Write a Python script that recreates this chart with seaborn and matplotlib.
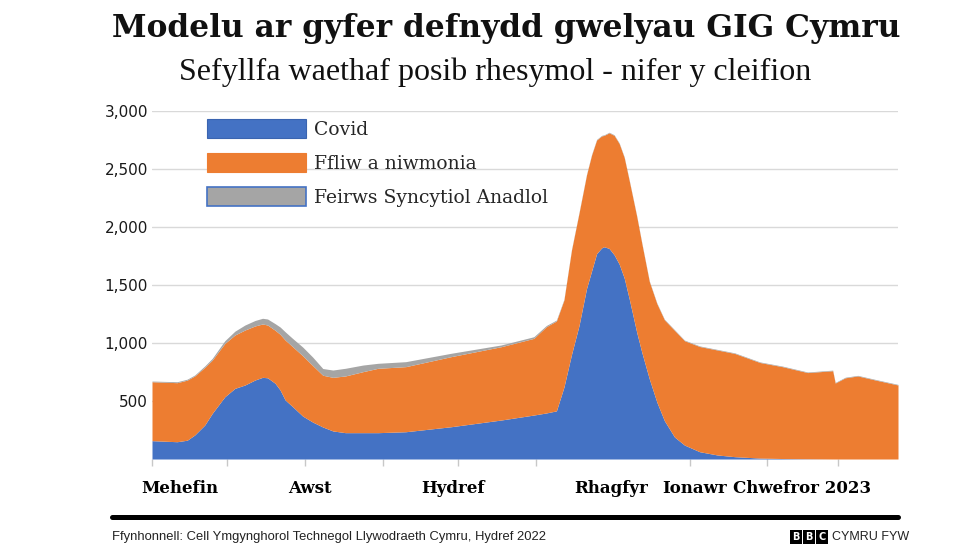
"""Modelu defnydd gwelyau GIG Cymru - stacked area chart."""

import matplotlib
matplotlib.use("Agg")
import matplotlib.pyplot as plt
import matplotlib.dates as mdates
from matplotlib.lines import Line2D
from matplotlib.patches import Patch
import pandas as pd
import seaborn as sns

# days since 1 June 2022
day = [0, 10, 14, 17, 21, 24, 27, 29, 33, 37,
       41, 44, 46, 49, 51, 53, 56, 60, 64, 68,
       72, 77, 84, 90, 101, 119, 139, 152, 157, 161,
       164, 167, 170, 173, 175, 177, 179, 180, 182, 184,
       186, 188, 190, 193, 195, 198, 201, 204, 208, 212,
       218, 225, 232, 242, 251, 261, 271, 272, 276, 281,
       288, 297]
covid = [158, 149, 162, 207, 293, 394, 480, 537, 609, 638,
         681, 704, 700, 653, 595, 509, 451, 370, 318, 276,
         242, 227, 227, 227, 235, 278, 336, 379, 397, 415,
         620, 900, 1150, 1470, 1620, 1770, 1820, 1830, 1815, 1760,
         1680, 1560, 1380, 1090, 920, 690, 490, 330, 190, 120,
         63, 35, 20, 8, 4, 2, 0, 0, 0, 0,
         0, 0]
flu = [508, 509, 518, 509, 497, 459, 460, 460, 460, 474,
       466, 460, 455, 457, 480, 517, 517, 520, 487, 446,
       462, 489, 526, 555, 561, 604, 632, 661, 744, 775,
       751, 900, 970, 980, 1000, 980, 965, 960, 997, 1030,
       1040, 1040, 1020, 1000, 940, 840, 850, 870, 920, 900,
       907, 905, 890, 824, 792, 743, 761, 655, 700, 716,
       681, 638]
rsv = [6, 8, 8, 8, 12, 15, 20, 23, 33, 43,
       47, 49, 52, 57, 63, 71, 71, 75, 73, 58,
       63, 66, 57, 43, 43, 29, 15, 14, 10, 8,
       6, 5, 5, 5, 5, 5, 5, 5, 5, 5,
       5, 5, 5, 5, 5, 5, 5, 5, 5, 5,
       5, 5, 5, 5, 5, 5, 5, 5, 5, 5,
       5, 5]

series_labels = ["Covid", "Ffliw a niwmonia", "Feirws Syncytiol Anadlol"]
y_ticks = [500, 1000, 1500, 2000, 2500, 3000]
month_labels = ["Mehefin", "Awst", "Hydref", "Rhagfyr", "Ionawr", "Chwefror 2023"]
label_days = [11, 63, 120, 183, 216, 259]

title = "Modelu ar gyfer defnydd gwelyau GIG Cymru"
subtitle = "Sefyllfa waethaf posib rhesymol - nifer y cleifion"
source = "Ffynhonnell: Cell Ymgynghorol Technegol Llywodraeth Cymru, Hydref 2022"

BLUE = "#4472c4"
ORANGE = "#ed7d31"
GREY = "#a5a5a5"

sns.set_theme(style="white")
plt.rcParams["font.family"] = ["DejaVu Sans"]

start = pd.Timestamp("2022-06-01")
dates = start + pd.to_timedelta(day, unit="D")

W, H = 976, 549
fig = plt.figure(figsize=(W / 100, H / 100), dpi=100)
ax = fig.add_axes([152 / W, 1 - 459 / H, 746 / W, 348 / H])

ax.stackplot(dates, covid, flu, rsv, colors=[BLUE, ORANGE, GREY], linewidth=0)
ax.set_xlim(start, start + pd.Timedelta(days=297))
ax.set_ylim(0, 3000)

ax.set_yticks(y_ticks)
ax.set_yticklabels([f"{v:,}" for v in y_ticks])
ax.yaxis.grid(True, color="#d9d9d9", lw=1)
ax.xaxis.grid(False)
ax.set_axisbelow(True)
sns.despine(ax=ax, left=True, bottom=True)
ax.tick_params(axis="y", length=0, pad=3, labelsize=11, labelcolor="#1a1a1a")

# month marks as minor ticks, the free-floating month names as major ticks
ax.xaxis.set_minor_locator(mdates.MonthLocator())
ax.set_xticks(mdates.date2num(start + pd.to_timedelta(label_days, unit="D")))
ax.set_xticklabels(month_labels)
ax.tick_params(axis="x", which="major", length=0, pad=15)
ax.tick_params(axis="x", which="minor", bottom=True, length=5, width=1, color="#c8c8c8")
for lab in ax.get_xticklabels():
    lab.set_fontfamily("DejaVu Serif")
    lab.set_fontweight("bold")
    lab.set_fontsize(12)
    lab.set_color("black")

handles = [
    Patch(facecolor=BLUE, edgecolor="#3a64b0", lw=0.8),
    Patch(facecolor=ORANGE, edgecolor=ORANGE, lw=0.8),
    Patch(facecolor=GREY, edgecolor=BLUE, lw=1.2),
]
ax.legend(handles, series_labels, loc="upper left",
          bbox_to_anchor=((207 - 152) / 746, (459 - 119) / 348),
          frameon=False, prop={"family": "DejaVu Serif", "size": 13.5},
          handlelength=5.3, handleheight=1.2, handletextpad=0.4,
          labelspacing=0.75, borderpad=0, borderaxespad=0)

fig.text(506 / W, 1 - 37 / H, title, ha="center", va="baseline",
         family="DejaVu Serif", weight="bold", size=22.5, color="#111111")
fig.text(495 / W, 1 - 80 / H, subtitle, ha="center", va="baseline",
         family="Liberation Serif", size=23, color="#111111")

fig.add_artist(Line2D([112 / W, 898 / W], [1 - 517 / H] * 2, color="black", lw=3.6))
fig.text(112 / W, 1 - 537 / H, source, ha="left", va="center",
         family="Liberation Sans", size=9.4, color="#222222")
for i, ch in enumerate("BBC"):
    fig.text((796 + i * 13) / W, 1 - 537 / H, ch, ha="center", va="center",
             color="white", weight="bold", size=7,
             bbox=dict(boxstyle="square,pad=0.25", fc="black", ec="none"))
fig.text(832 / W, 1 - 537 / H, "CYMRU FYW", ha="left", va="center",
         family="Liberation Sans", size=9, color="#222222")

fig.savefig("out.png", dpi=100)
plt.close(fig)
